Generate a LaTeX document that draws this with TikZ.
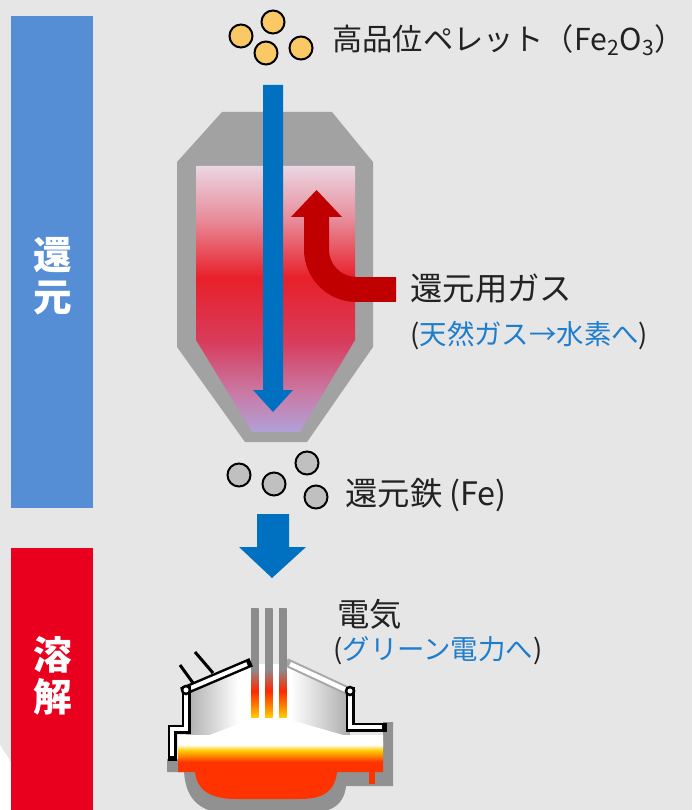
\documentclass[tikz,border=0pt]{standalone}
\usepackage{fontspec}
\setmainfont{Noto Sans CJK JP}
\usetikzlibrary{calc}

\definecolor{paper}{RGB}{230,230,230}
\definecolor{barblue}{RGB}{85,142,213}
\definecolor{barred}{RGB}{232,0,30}
\definecolor{flowblue}{RGB}{0,112,192}
\definecolor{gasred}{RGB}{192,0,0}
\definecolor{shaftgray}{RGB}{162,162,162}
\definecolor{shellgray}{RGB}{145,145,145}
\definecolor{rodgray}{RGB}{140,140,140}
\definecolor{hoodgray}{RGB}{172,172,172}
\definecolor{pelletyellow}{RGB}{250,200,100}
\definecolor{irongray}{RGB}{192,192,192}
\definecolor{noteblue}{RGB}{30,125,205}
\definecolor{ink}{RGB}{34,34,34}
\definecolor{shaftlav}{RGB}{176,160,216}
\definecolor{shaftmauve}{RGB}{200,124,168}
\definecolor{shaftcrimson}{RGB}{216,60,92}
\definecolor{shaftred}{RGB}{232,32,42}
\definecolor{shaftpink}{RGB}{232,140,154}
\definecolor{shaftpale}{RGB}{234,214,226}
\definecolor{arcyellow}{RGB}{255,204,0}
\definecolor{arcorange}{RGB}{255,130,0}
\definecolor{arcred}{RGB}{255,40,0}
\definecolor{meltred}{RGB}{255,51,0}

% gas inside the shaft: pale at the top, red in the middle, lavender below
\pgfdeclareverticalshading{shaftglow}{100bp}{%
  color(0bp)=(shaftlav); color(25bp)=(shaftlav); color(32bp)=(shaftmauve);
  color(42bp)=(shaftcrimson); color(54bp)=(shaftred); color(65bp)=(shaftpink);
  color(75bp)=(shaftpale); color(100bp)=(shaftpale)}
% electrode tips glow from gray to yellow
\pgfdeclareverticalshading{electrode}{100bp}{%
  color(0bp)=(arcyellow); color(25bp)=(arcyellow); color(30bp)=(arcorange);
  color(37bp)=(arcred); color(47bp)=(rodgray); color(100bp)=(rodgray)}
% molten bath
\pgfdeclareverticalshading{bath}{100bp}{%
  color(0bp)=(meltred); color(25bp)=(meltred); color(54bp)=(meltred);
  color(58.5bp)=(arcorange); color(63bp)=(arcyellow); color(67.5bp)=(white);
  color(100bp)=(white)}
% space under the roof, gray at the walls
\pgfdeclarehorizontalshading{hood}{100bp}{%
  color(0bp)=(hoodgray); color(25bp)=(hoodgray); color(41bp)=(white);
  color(57bp)=(white); color(75bp)=(hoodgray); color(100bp)=(hoodgray)}

\tikzset{
  pellet/.style={circle, draw=black, line width=0.04cm, fill=pelletyellow,
    minimum size=0.46cm, inner sep=0pt},
  iron/.style={pellet, fill=irongray},
  label/.style={anchor=west, inner sep=0pt, text=ink,
    font=\fontsize{18.4pt}{21pt}\selectfont},
  note/.style={anchor=west, inner sep=0pt, text=ink,
    font=\fontsize{15.6pt}{18pt}\selectfont},
  stage/.style={text=white, align=center, inner sep=0pt,
    font=\fontsize{22pt}{24pt}\selectfont\bfseries},
  wallout/.style={black, line width=0.18cm, line cap=rect, line join=miter},
  wallin/.style={white, line width=0.08cm, line join=miter},
  hinge/.style={circle, draw=black, line width=0.05cm, fill=white,
    minimum size=0.16cm, inner sep=0pt}
}

\newcommand\wallline[1]{\draw[wallout] #1; \draw[wallin] #1;}

\begin{document}
\begin{tikzpicture}[x=0.02cm, y=-0.02cm]

\fill[paper] (0,0) rectangle (692,810);
\useasboundingbox (0,0) rectangle (692,810);
\fill[white] (0,745) -- (11,762) -- (11,810) -- (0,810) -- cycle;

% stage bars
\fill[barblue] (11,16) rectangle (93,508);
\fill[barred] (11,548) rectangle (93,810);
\node[stage] (reduce) at (53,276) {還\\元};
\node[stage] (melt) at (53,676) {溶\\解};

% shaft furnace
\fill[shaftgray] (222,112) -- (332,112) -- (373,162) -- (373,347)
  -- (307,442) -- (245,442) -- (177,347) -- (177,162) -- cycle;
\shade[shading=shaftglow] (196,166) -- (355,166) -- (355,340)
  -- (300,432) -- (252,432) -- (196,340) -- cycle;

% pellets falling through the shaft
\fill[flowblue] (263,85) -- (283,85) -- (283,390) -- (293,390)
  -- (273,412) -- (253,390) -- (263,390) -- cycle;

% reducing gas blown in from the side
\draw[gasred, line width=0.5cm, rounded corners=0.8cm]
  (396,289.5) -- (316.5,289.5) -- (316.5,216);
\fill[gasred] (291,217) -- (342,217) -- (316.5,190) -- cycle;

% pellets
\node[pellet] (p1) at (241,36) {};
\node[pellet] (p2) at (273,22) {};
\node[pellet] (p3) at (266,53) {};
\node[pellet] (p4) at (301,48) {};

\node[iron] (f1) at (239,475) {};
\node[iron] (f2) at (274,484) {};
\node[iron] (f3) at (307,463) {};
\node[iron] (f4) at (316,497) {};

% transfer to the melting furnace
\fill[flowblue] (257,514) -- (289,514) -- (289,547) -- (306,547)
  -- (272,578) -- (239,547) -- (257,547) -- cycle;

% electric arc furnace
\fill[shellgray] (167,759) -- (383,759) -- (383,722) -- (393,722)
  -- (393,786) -- (346,786) .. controls (344,806) and (330,814) .. (300,814)
  -- (235,814) .. controls (200,814) and (186,800) .. (184,772)
  -- (167,772) -- cycle;
\shade[shading=hood]
  (186,692) -- (247,664) -- (288,664) -- (350,691) -- (350,740)
  -- (186,740) -- cycle;
\fill[white] (178,747) -- (252,719) -- (287,719) -- (350,737)
  -- (383,742) -- (383,747) -- cycle;
\shade[shading=bath] (178,735) -- (383,735) -- (383,772) -- (337,772)
  .. controls (335,792) and (322,799) .. (300,799) -- (236,799)
  .. controls (210,799) and (197,790) .. (195,772) -- (178,772) -- cycle;
\fill[meltred] (369,772) rectangle (375,784);

\draw[gray!70, line width=0.17cm, line cap=rect] (290,664) -- (346,690);
\draw[white, line width=0.09cm] (290,664) -- (346,690);

\foreach \ex in {251,265,279}
  \shade[shading=electrode] (\ex,608) rectangle ++(7.5,109);

\draw[black, line width=0.06cm] (180,665) -- (193,683);
\draw[black, line width=0.06cm] (195,652) -- (213,673);
\wallline{(186,690) -- (247,664)}
\wallline{(186,690) -- (186,729) -- (172,729) -- (172,756)}
\wallline{(350,691) -- (350,727) -- (382,727)}
\node[hinge] (lefthinge) at (186,690) {};
\node[hinge] (righthinge) at (350,691) {};

% labels
\node[label, font=\fontsize{17.2pt}{21pt}\selectfont] (pellettext) at (332,40)
  {高品位ペレット（Fe\textsubscript{2}O\textsubscript{3}）};
\node[label] (gastext) at (410,289) {還元用ガス};
\node[note] (gasnote) at (410,336) {(\textcolor{noteblue}{天然ガス→水素へ})};
\node[label] (irontext) at (345,495) {還元鉄 (Fe)};
\node[label] (powertext) at (337,614) {電気};
\node[note] (powernote) at (333,651) {(\textcolor{noteblue}{グリーン電力へ})};

\end{tikzpicture}
\end{document}
